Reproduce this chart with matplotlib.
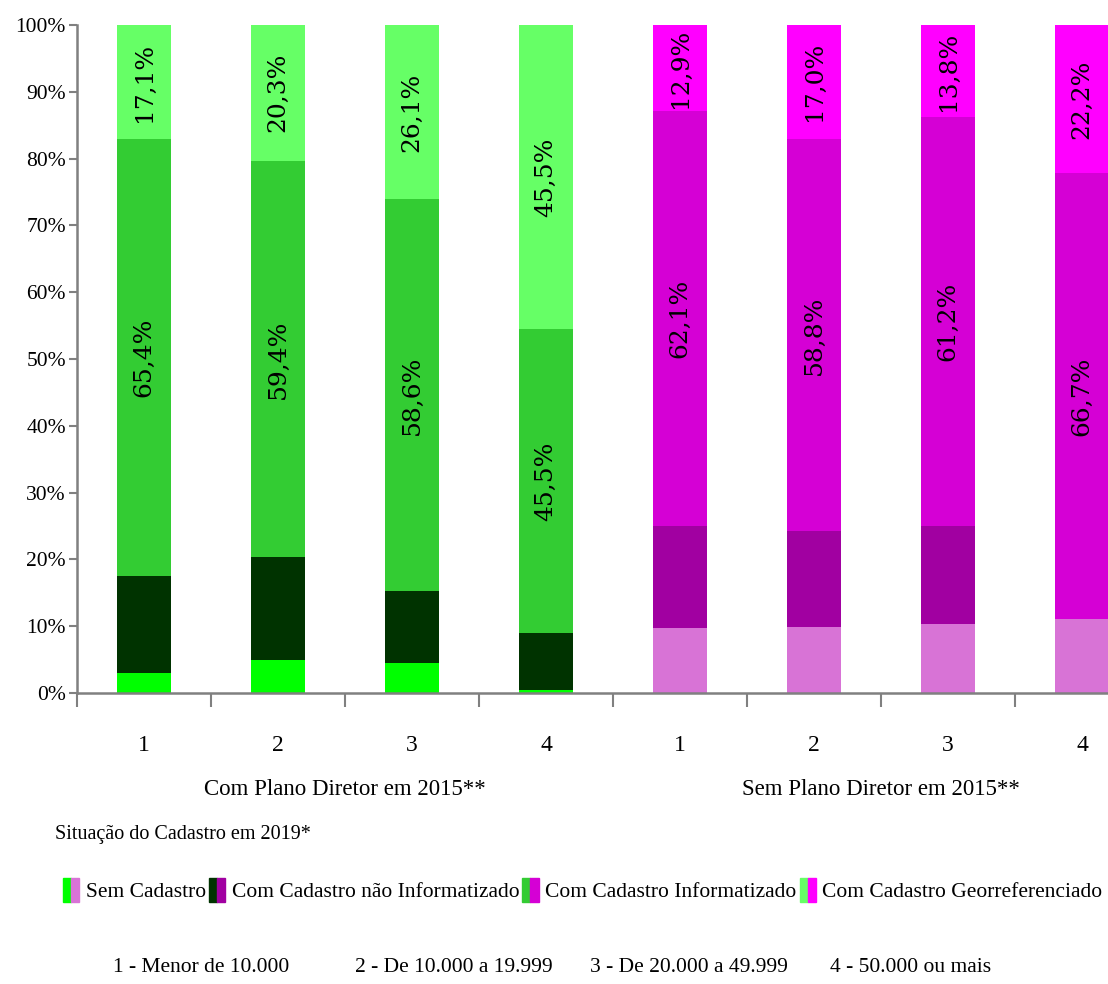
import matplotlib.pyplot as plt
import numpy as np
from matplotlib.legend_handler import HandlerTuple
from matplotlib.patches import Patch

# Situação do cadastro (%) por faixa populacional, com/sem plano diretor
categories = ["1", "2", "3", "4", "1", "2", "3", "4"]
groups = ["Com Plano Diretor em 2015**", "Sem Plano Diretor em 2015**"]
sem_cadastro = [3.0, 5.0, 4.5, 0.5, 9.8, 9.9, 10.4, 11.1]
nao_informatizado = [14.5, 15.3, 10.8, 8.5, 15.2, 14.3, 14.6, 0.0]
informatizado = [65.4, 59.4, 58.6, 45.5, 62.1, 58.8, 61.2, 66.7]
georreferenciado = [17.1, 20.3, 26.1, 45.5, 12.9, 17.0, 13.8, 22.2]
series_names = ["Sem Cadastro", "Com Cadastro não Informatizado",
                "Com Cadastro Informatizado", "Com Cadastro Georreferenciado"]
faixas = ["1 - Menor de 10.000", "2 - De 10.000 a 19.999",
          "3 - De 20.000 a 49.999", "4 - 50.000 ou mais"]

green = ["#00ff00", "#003300", "#33cc33", "#66ff66"]
magenta = ["#d873d6", "#a100a1", "#d500d5", "#ff00ff"]

plt.rcParams["font.family"] = ["Liberation Serif", "DejaVu Serif"]

fig = plt.figure(figsize=(11.08, 9.84), dpi=100)
ax = fig.add_axes([77 / 1108, 1 - 693 / 984, 1072 / 1108, 668 / 984])

x = np.arange(len(categories))
series = [sem_cadastro, nao_informatizado, informatizado, georreferenciado]
bottom = np.zeros(len(categories))
for s, vals in enumerate(series):
    cols = [green[s] if i < 4 else magenta[s] for i in range(len(categories))]
    ax.bar(x, vals, width=0.4, bottom=bottom, color=cols, linewidth=0)
    # only the two upper segments carry a value label
    if s >= 2:
        for xi, b, v in zip(x, bottom, vals):
            ax.text(xi, b + v / 2, f"{v:.1f}%".replace(".", ","),
                    rotation=90, ha="center", va="center",
                    fontsize=18, family="DejaVu Serif", color="black")
    bottom += np.array(vals)

ax.set_xlim(-0.5, len(categories) - 0.5)
ax.set_ylim(0, 100)
ax.set_yticks(np.arange(0, 101, 10))
ax.set_yticklabels([f"{v}%" for v in range(0, 101, 10)], fontsize=15.5)
ax.set_xticks(np.arange(-0.5, len(categories), 1.0))
ax.set_xticklabels([])
ax.tick_params(axis="x", length=10, width=1.5, color="#808080", direction="out")
ax.tick_params(axis="y", length=6, width=1.5, color="#808080", pad=2)
for side in ["top", "right"]:
    ax.spines[side].set_visible(False)
for side in ["left", "bottom"]:
    ax.spines[side].set_color("#808080")
    ax.spines[side].set_linewidth(1.8)

trans = ax.get_xaxis_transform()
for xi, lab in zip(x, categories):
    ax.text(xi, -0.078, lab, transform=trans, ha="center", va="center", fontsize=17)
for g, name in enumerate(groups):
    ax.text(g * 4 + 1.5, -0.145, name, transform=trans, ha="center", va="center", fontsize=16.5)

fig.text(55 / 1108, 1 - 835 / 984, "Situação do Cadastro em 2019*", fontsize=14.5,
         ha="left", va="center")

handles = [(Patch(color=green[i]), Patch(color=magenta[i])) for i in range(4)]
fig.legend(handles, series_names, ncol=4, frameon=False, fontsize=15.5,
           loc="center left", bbox_to_anchor=(63 / 1108, 1 - 890 / 984),
           handler_map={tuple: HandlerTuple(ndivide=None, pad=0)},
           handlelength=0.75, handleheight=1.4, handletextpad=0.3,
           columnspacing=0.15, borderaxespad=0, borderpad=0)

for xpos, txt in zip([113, 355, 590, 830], faixas):
    fig.text(xpos / 1108, 1 - 968 / 984, txt, fontsize=15.5, ha="left", va="center")

fig.savefig("out.png", dpi=100)
